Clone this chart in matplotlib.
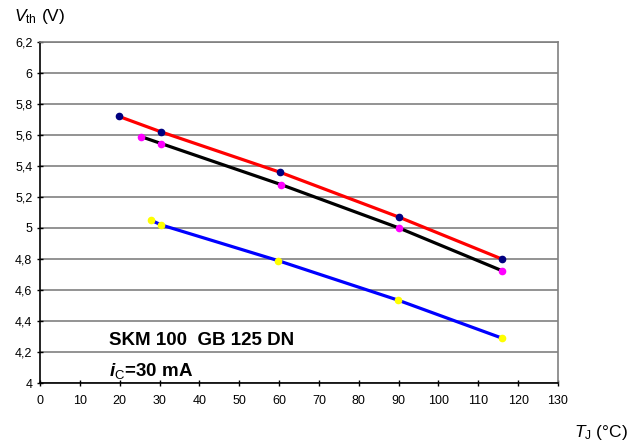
import matplotlib
matplotlib.use("Agg")
import matplotlib.pyplot as plt

plt.rcParams['font.family'] = ['Liberation Sans', 'DejaVu Sans']
plt.rcParams['mathtext.fontset'] = 'custom'
plt.rcParams['mathtext.rm'] = 'Liberation Sans'
plt.rcParams['mathtext.it'] = 'Liberation Sans:italic'
plt.rcParams['mathtext.bf'] = 'Liberation Sans:bold'
plt.rcParams['mathtext.bfit'] = 'Liberation Sans:italic:bold'

# Data
t_red = [19.8, 30.4, 60.2, 90.1, 115.9]
v_red = [5.72, 5.62, 5.36, 5.07, 4.80]
t_black = [25.3, 30.4, 60.5, 90.1, 115.9]
v_black = [5.59, 5.545, 5.28, 5.00, 4.725]
t_blue = [27.9, 30.4, 59.7, 89.8, 115.9]
v_blue = [5.05, 5.02, 4.79, 4.535, 4.29]

x_ticks = list(range(0, 131, 10))
y_ticks = [4.0, 4.2, 4.4, 4.6, 4.8, 5.0, 5.2, 5.4, 5.6, 5.8, 6.0, 6.2]
y_labels = ['4', '4,2', '4,4', '4,6', '4,8', '5', '5,2', '5,4', '5,6', '5,8', '6', '6,2']

fig = plt.figure(figsize=(6.36, 4.43), dpi=100)
ax = fig.add_axes([40/636, 60/443, 518/636, 341/443])

for y in y_ticks:
    ax.axhline(y, color='#808080', lw=1.2, zorder=1)

ax.plot(t_red, v_red, color='#ff0000', lw=2.3, zorder=3)
ax.plot(t_red, v_red, 'o', color='#000080', ms=4.5, zorder=4)
ax.plot(t_black, v_black, color='#000000', lw=2.3, zorder=3)
ax.plot(t_black, v_black, 'o', color='#ff00ff', ms=4.5, zorder=4)
ax.plot(t_blue, v_blue, color='#0000ff', lw=2.3, zorder=3)
ax.plot(t_blue, v_blue, 'o', color='#ffff00', ms=4.5, zorder=4)

ax.set_xlim(0, 130)
ax.set_ylim(4.0, 6.2)
ax.set_xticks(x_ticks)
ax.set_xticklabels([str(v) for v in x_ticks])
ax.set_yticks(y_ticks)
ax.set_yticklabels(y_labels)
ax.tick_params(axis='both', direction='inout', length=5, width=1, labelsize=9, colors='#000000', pad=3)
ax.tick_params(axis='x', pad=6)

ax.spines['left'].set_color('#000000')
ax.spines['bottom'].set_color('#000000')
ax.spines['top'].set_color('#808080')
ax.spines['right'].set_color('#808080')
for s in ax.spines.values():
    s.set_linewidth(1.2)

fig.text(14/636, 1 - 16/443, r'$V_{\mathrm{th}}$ (V)', fontsize=12.5, ha='left', va='center')
fig.text(574/636, 1 - 432/443, r'$T_{\mathrm{J}}$ (°C)', fontsize=12.5, ha='left', va='center')

ax.text(17.2, 4.277, 'SKM 100  GB 125 DN', fontsize=13.5, fontweight='bold', ha='left', va='center')
ax.text(17.2, 4.075, r'$\mathbfit{i}_{\mathrm{C}}$=30 mA', fontsize=13.5, fontweight='bold', ha='left', va='center')

fig.savefig('out.png', dpi=100)
